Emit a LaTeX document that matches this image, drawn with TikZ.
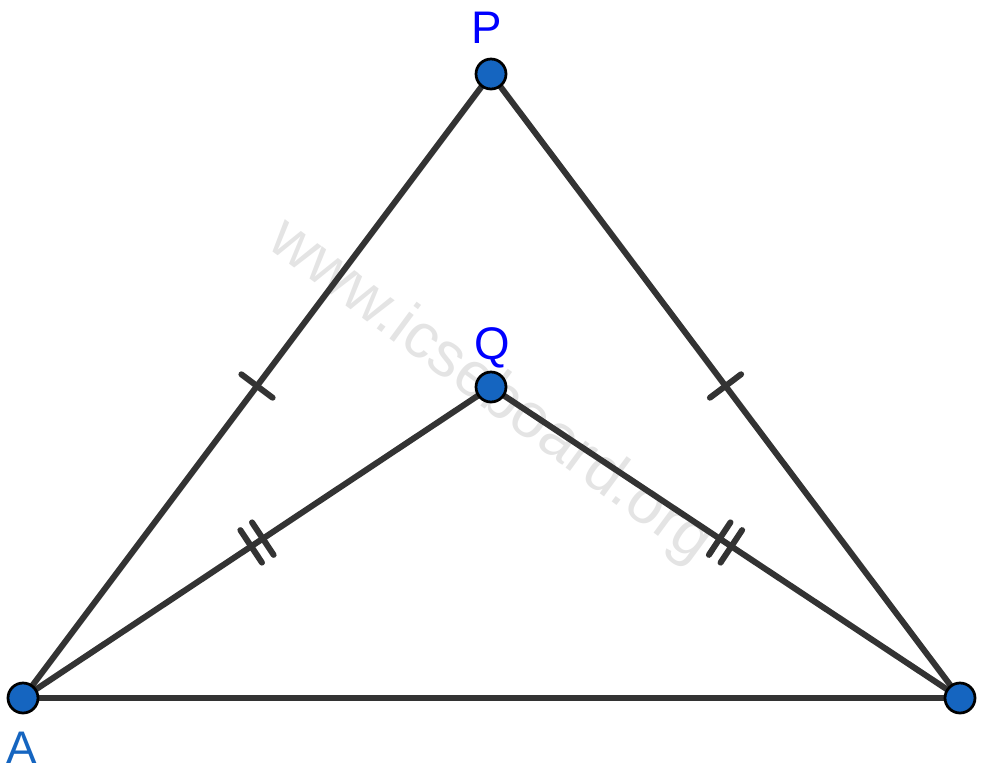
\documentclass[tikz,border=0pt]{standalone}
\usepackage{fontspec}
\setmainfont{Liberation Sans}
\usetikzlibrary{positioning, calc}

\definecolor{segcol}{HTML}{333333}
\definecolor{ptcol}{HTML}{1565C0}
\definecolor{wmark}{HTML}{E4E4E4}

\tikzset{
  seg/.style={draw=segcol, line width=0.12cm},
  tick/.style={draw=segcol, line width=0.12cm, line cap=round},
  vertex/.style={circle, fill=ptcol, draw=black, line width=0.055cm, inner sep=0pt, minimum size=0.6cm},
  lbl/.style={font=\fontsize{26}{30}\selectfont, inner sep=0pt}
}

\begin{document}
\begin{tikzpicture}[x=0.02cm, y=-0.02cm]
\useasboundingbox (0,0) rectangle (987,778);
% watermark
\node[text=wmark, font=\fontsize{36}{40}\selectfont, rotate=-36.4] (wm) at (490,392) {www.icseboard.org};
% points
\coordinate (A) at (23,698);
\coordinate (B) at (960,698);
\coordinate (P) at (491,74);
\coordinate (Q) at (491,387);
% sides
\draw[seg] (A) -- (P);
\draw[seg] (P) -- (B);
\draw[seg] (A) -- (Q);
\draw[seg] (Q) -- (B);
\draw[seg] (A) -- (B);
% single ticks
\coordinate (mAP) at ($(A)!0.5!(P)$);
\coordinate (mPB) at ($(P)!0.5!(B)$);
\draw[tick] ($(mAP)!0.39cm!90:(P)$) -- ($(mAP)!0.39cm!-90:(P)$);
\draw[tick] ($(mPB)!0.39cm!90:(B)$) -- ($(mPB)!0.39cm!-90:(B)$);
% double ticks
\coordinate (mAQ) at ($(A)!0.5!(Q)$);
\coordinate (mQB) at ($(Q)!0.5!(B)$);
\foreach \e/\f in {A/Q, Q/B}{
  \foreach \s in {-0.14cm, 0.14cm}{
    \coordinate (t) at ($(m\e\f)!\s!(\f)$);
    \draw[tick] ($(t)!0.39cm!90:(\f)$) -- ($(t)!0.39cm!-90:(\f)$);
  }
}
% vertices
\node[vertex] (vA) at (A) {};
\node[vertex] (vB) at (B) {};
\node[vertex] (vP) at (P) {};
\node[vertex] (vQ) at (Q) {};
% labels
\node[lbl, text=blue] (lP) at (487,28) {P};
\node[lbl, text=blue] (lQ) at (492,348) {Q};
\node[lbl, text=ptcol] (lA) at (22,748) {A};
\end{tikzpicture}
\end{document}
